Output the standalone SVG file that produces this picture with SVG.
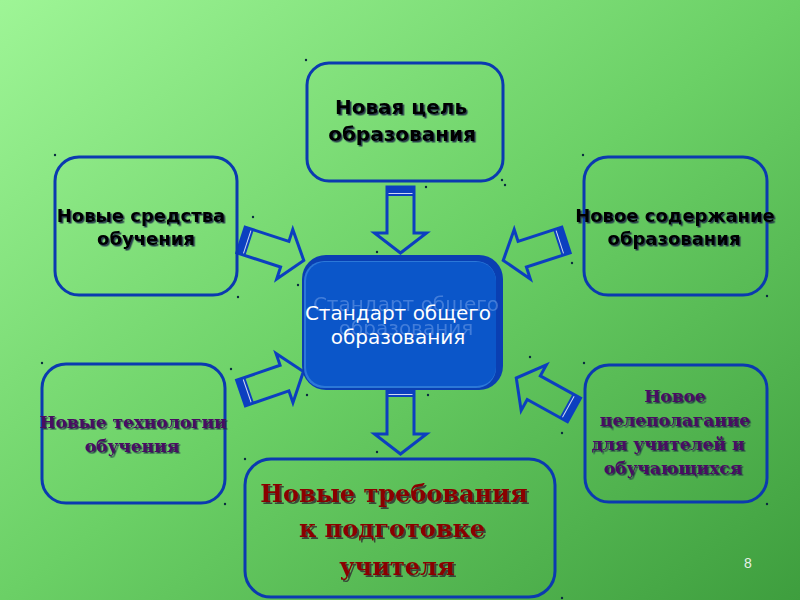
<svg xmlns="http://www.w3.org/2000/svg" width="800" height="600" viewBox="0 0 800 600">
<defs>
<linearGradient id="bg" x1="0" y1="0" x2="1" y2="1">
<stop offset="0" stop-color="#9ef596"/>
<stop offset="0.5" stop-color="#6bd066"/>
<stop offset="1" stop-color="#3e9e3e"/>
</linearGradient>
<filter id="sh" x="-10%" y="-20%" width="120%" height="150%">
<feDropShadow dx="1.5" dy="1.5" stdDeviation="0.3" flood-color="#1c2c44" flood-opacity="0.9"/>
</filter>
<filter id="shr" x="-10%" y="-20%" width="120%" height="150%">
<feDropShadow dx="2" dy="2" stdDeviation="0.4" flood-color="#333333" flood-opacity="0.85"/>
</filter>
<g id="arr">
<path d="M0,-13.5 H46 V-26 L66,0 L46,26 V13.5 H0 Z" fill="none" stroke="#0c3fc0" stroke-width="3" stroke-linejoin="miter"/>
<rect x="0" y="-13.5" width="9" height="27" fill="#0c3fc0"/>
<line x1="6.5" y1="-12" x2="6.5" y2="12" stroke="#ffffff" stroke-width="1" opacity="0.8"/>
</g>
</defs>
<style>
.box{fill:none;stroke:#0b3ab0;stroke-width:3}
.sans{font-family:"DejaVu Sans",sans-serif;font-weight:bold;text-anchor:middle;fill:#000000}
.ser{font-family:"DejaVu Serif","Liberation Serif",serif;font-weight:bold;text-anchor:middle}
.pur{fill:#4a0a62}
.red{fill:#8a0000}
.dot{fill:#0a2a40}
</style>
<rect width="800" height="600" fill="url(#bg)"/>
<g id="connectors">
<use href="#arr" transform="translate(400.5,187) rotate(90)"/>
<use href="#arr" transform="translate(400.5,388) rotate(90)"/>
<use href="#arr" transform="translate(241,240) rotate(18)"/>
<use href="#arr" transform="translate(241,393) rotate(-19)"/>
<use href="#arr" transform="translate(566,240) rotate(162)"/>
<use href="#arr" transform="translate(574,410) rotate(209)"/>
</g>
<g id="dots">
<circle class="dot" cx="306" cy="60" r="1.2"/><circle class="dot" cx="505" cy="185" r="1.2"/>
<circle class="dot" cx="426" cy="187" r="1.2"/><circle class="dot" cx="377" cy="252" r="1.2"/>
<circle class="dot" cx="55" cy="155" r="1.2"/><circle class="dot" cx="238" cy="297" r="1.2"/>
<circle class="dot" cx="253" cy="217" r="1.2"/><circle class="dot" cx="298" cy="285" r="1.2"/>
<circle class="dot" cx="583" cy="155" r="1.2"/><circle class="dot" cx="767" cy="296" r="1.2"/>
<circle class="dot" cx="502" cy="180" r="1.2"/><circle class="dot" cx="572" cy="263" r="1.2"/>
<circle class="dot" cx="42" cy="363" r="1.2"/><circle class="dot" cx="225" cy="504" r="1.2"/>
<circle class="dot" cx="231" cy="369" r="1.2"/><circle class="dot" cx="307" cy="395" r="1.2"/>
<circle class="dot" cx="530" cy="357" r="1.2"/><circle class="dot" cx="584" cy="363" r="1.2"/>
<circle class="dot" cx="562" cy="433" r="1.2"/><circle class="dot" cx="767" cy="504" r="1.2"/>
<circle class="dot" cx="245" cy="459" r="1.2"/><circle class="dot" cx="377" cy="452" r="1.2"/>
<circle class="dot" cx="428" cy="395" r="1.2"/><circle class="dot" cx="562" cy="598" r="1.2"/>
</g>
<g id="top">
<rect class="box" x="307" y="63" width="196" height="118" rx="22"/>
<text class="sans" x="401" y="114" font-size="20" filter="url(#sh)">Новая цель</text>
<text class="sans" x="402" y="141" font-size="20" filter="url(#sh)">образования</text>
</g>
<g id="left">
<rect class="box" x="55" y="157" width="182" height="138" rx="24"/>
<text class="sans" x="141" y="222" font-size="18" filter="url(#sh)">Новые средства</text>
<text class="sans" x="146" y="245" font-size="18" filter="url(#sh)">обучения</text>
</g>
<g id="right">
<rect class="box" x="584" y="157" width="183" height="138" rx="24"/>
<text class="sans" x="675" y="222" font-size="18" filter="url(#sh)">Новое содержание</text>
<text class="sans" x="674" y="245" font-size="18" filter="url(#sh)">образования</text>
</g>
<g id="center">
<rect x="302" y="255" width="201" height="135" rx="24" fill="#0a3fb2"/>
<rect x="304" y="261" width="192" height="127" rx="20" fill="#2b78d8"/>
<rect x="306" y="262" width="190" height="124" rx="19" fill="#0b56c9"/>
<text x="406" y="311" font-family="'DejaVu Sans',sans-serif" font-size="20" text-anchor="middle" fill="#6f9ee8" opacity="0.55">Стандарт общего</text>
<text x="406" y="335" font-family="'DejaVu Sans',sans-serif" font-size="20" text-anchor="middle" fill="#6f9ee8" opacity="0.55">образования</text>
<text x="398" y="320" font-family="'DejaVu Sans',sans-serif" font-size="20" text-anchor="middle" fill="#ffffff">Стандарт общего</text>
<text x="398" y="344" font-family="'DejaVu Sans',sans-serif" font-size="20" text-anchor="middle" fill="#ffffff">образования</text>
</g>
<g id="bottom-left">
<rect class="box" x="42" y="364" width="183" height="139" rx="24"/>
<text class="ser pur" x="133" y="428" font-size="17" filter="url(#sh)">Новые технологии</text>
<text class="ser pur" x="132" y="452" font-size="17" filter="url(#sh)">обучения</text>
</g>
<g id="bottom-right">
<rect class="box" x="585" y="365" width="182" height="137" rx="24"/>
<text class="ser pur" x="675" y="402" font-size="17" filter="url(#sh)">Новое</text>
<text class="ser pur" x="675" y="426" font-size="17" filter="url(#sh)">целеполагание</text>
<text class="ser pur" x="668" y="450" font-size="17" filter="url(#sh)">для учителей и</text>
<text class="ser pur" x="673" y="474" font-size="17" filter="url(#sh)">обучающихся</text>
</g>
<g id="bottom">
<rect class="box" x="245" y="459" width="310" height="138" rx="26"/>
<text class="ser red" x="394" y="502" font-size="24" filter="url(#shr)">Новые требования</text>
<text class="ser red" x="392" y="537" font-size="24" filter="url(#shr)">к подготовке</text>
<text class="ser red" x="397" y="575" font-size="24" filter="url(#shr)">учителя</text>
</g>
<text x="748" y="568" font-family="'Liberation Sans',sans-serif" font-size="14" fill="#e8f0e8" text-anchor="middle">8</text>
</svg>
